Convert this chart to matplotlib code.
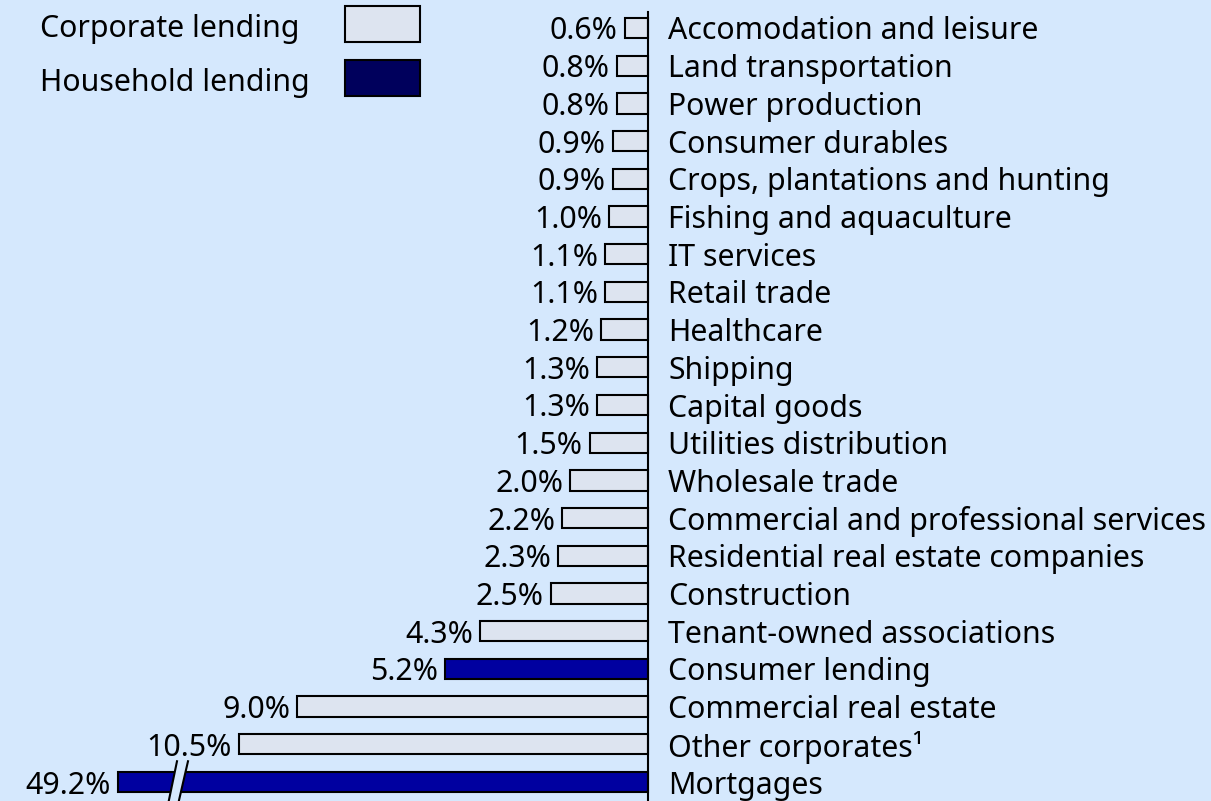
import matplotlib.pyplot as plt
from matplotlib.patches import Rectangle, Polygon

# Lending exposure by sector, share of total
sectors = ["Accomodation and leisure", "Land transportation", "Power production",
           "Consumer durables", "Crops, plantations and hunting", "Fishing and aquaculture",
           "IT services", "Retail trade", "Healthcare", "Shipping", "Capital goods",
           "Utilities distribution", "Wholesale trade", "Commercial and professional services",
           "Residential real estate companies", "Construction", "Tenant-owned associations",
           "Consumer lending", "Commercial real estate", "Other corporates\u00b9", "Mortgages"]
shares = [0.6, 0.8, 0.8, 0.9, 0.9, 1.0, 1.1, 1.1, 1.2, 1.3, 1.3, 1.5, 2.0, 2.2, 2.3,
          2.5, 4.3, 5.2, 9.0, 10.5, 49.2]
household = ["Consumer lending", "Mortgages"]

# the mortgage bar is cut (axis break) at this length
cap = 13.6

bg = "#d5e8fd"
light = "#dde4f0"
dark = "#0000a0"
dark_legend = "#00005c"

plt.rcParams['font.family'] = ['Noto Sans', 'DejaVu Sans']

fig = plt.figure(figsize=(12.11, 8.01), dpi=100)
fig.patch.set_facecolor(bg)
ax = fig.add_axes([0, 0, 1, 1])
ax.set_facecolor(bg)

px = 39.0  # pixels per percent
ax.set_xlim(-648 / px, (1211 - 648) / px)
step = 37.7
ax.set_ylim((801 - 28) / step, -28 / step)
ax.axis("off")

fs = 21.8
ypos = list(range(len(sectors)))
for y, name, v in zip(ypos, sectors, shares):
    length = min(v, cap)
    col = dark if name in household else light
    ax.barh(y, -length, height=0.54, color=col, edgecolor="black", linewidth=1.5, zorder=2)
    ax.text(-length - 7 / px, y, f"{v:.1f}%", ha="right", va="center_baseline", fontsize=fs)
    ax.text(20 / px, y, name, ha="left", va="center_baseline", fontsize=fs)

# axis line
ax.plot([0, 0], [-16 / step, 20.6], color="black", lw=1.5, zorder=4)

# break marks on the mortgage bar
yb = ypos[-1]
x1b, x1t = -(648 - 168) / px, -(648 - 177) / px
x2b, x2t = -(648 - 178) / px, -(648 - 188) / px
ytop, ybot = yb - 0.55, yb + 0.6
ax.add_patch(Polygon([(x1b, ybot), (x1t, ytop), (x2t, ytop), (x2b, ybot)],
                     closed=True, facecolor=bg, edgecolor="none", zorder=3))
ax.plot([x1b, x1t], [ybot, ytop], color="black", lw=1.5, zorder=3)
ax.plot([x2b, x2t], [ybot, ytop], color="black", lw=1.5, zorder=3)

# legend drawn by hand in figure pixels
def fx(p):
    return p / 1211

def fy(p):
    return 1 - p / 801

for label, col, top in [("Corporate lending", light, 6), ("Household lending", dark_legend, 60)]:
    fig.patches.append(Rectangle((fx(345), fy(top + 36)), fx(75), 36 / 801,
                                 transform=fig.transFigure, facecolor=col,
                                 edgecolor="black", linewidth=1.5))
    fig.text(fx(40), fy(top + 20), label, ha="left", va="center_baseline", fontsize=fs)

fig.savefig("out.png", dpi=100, facecolor=bg)
